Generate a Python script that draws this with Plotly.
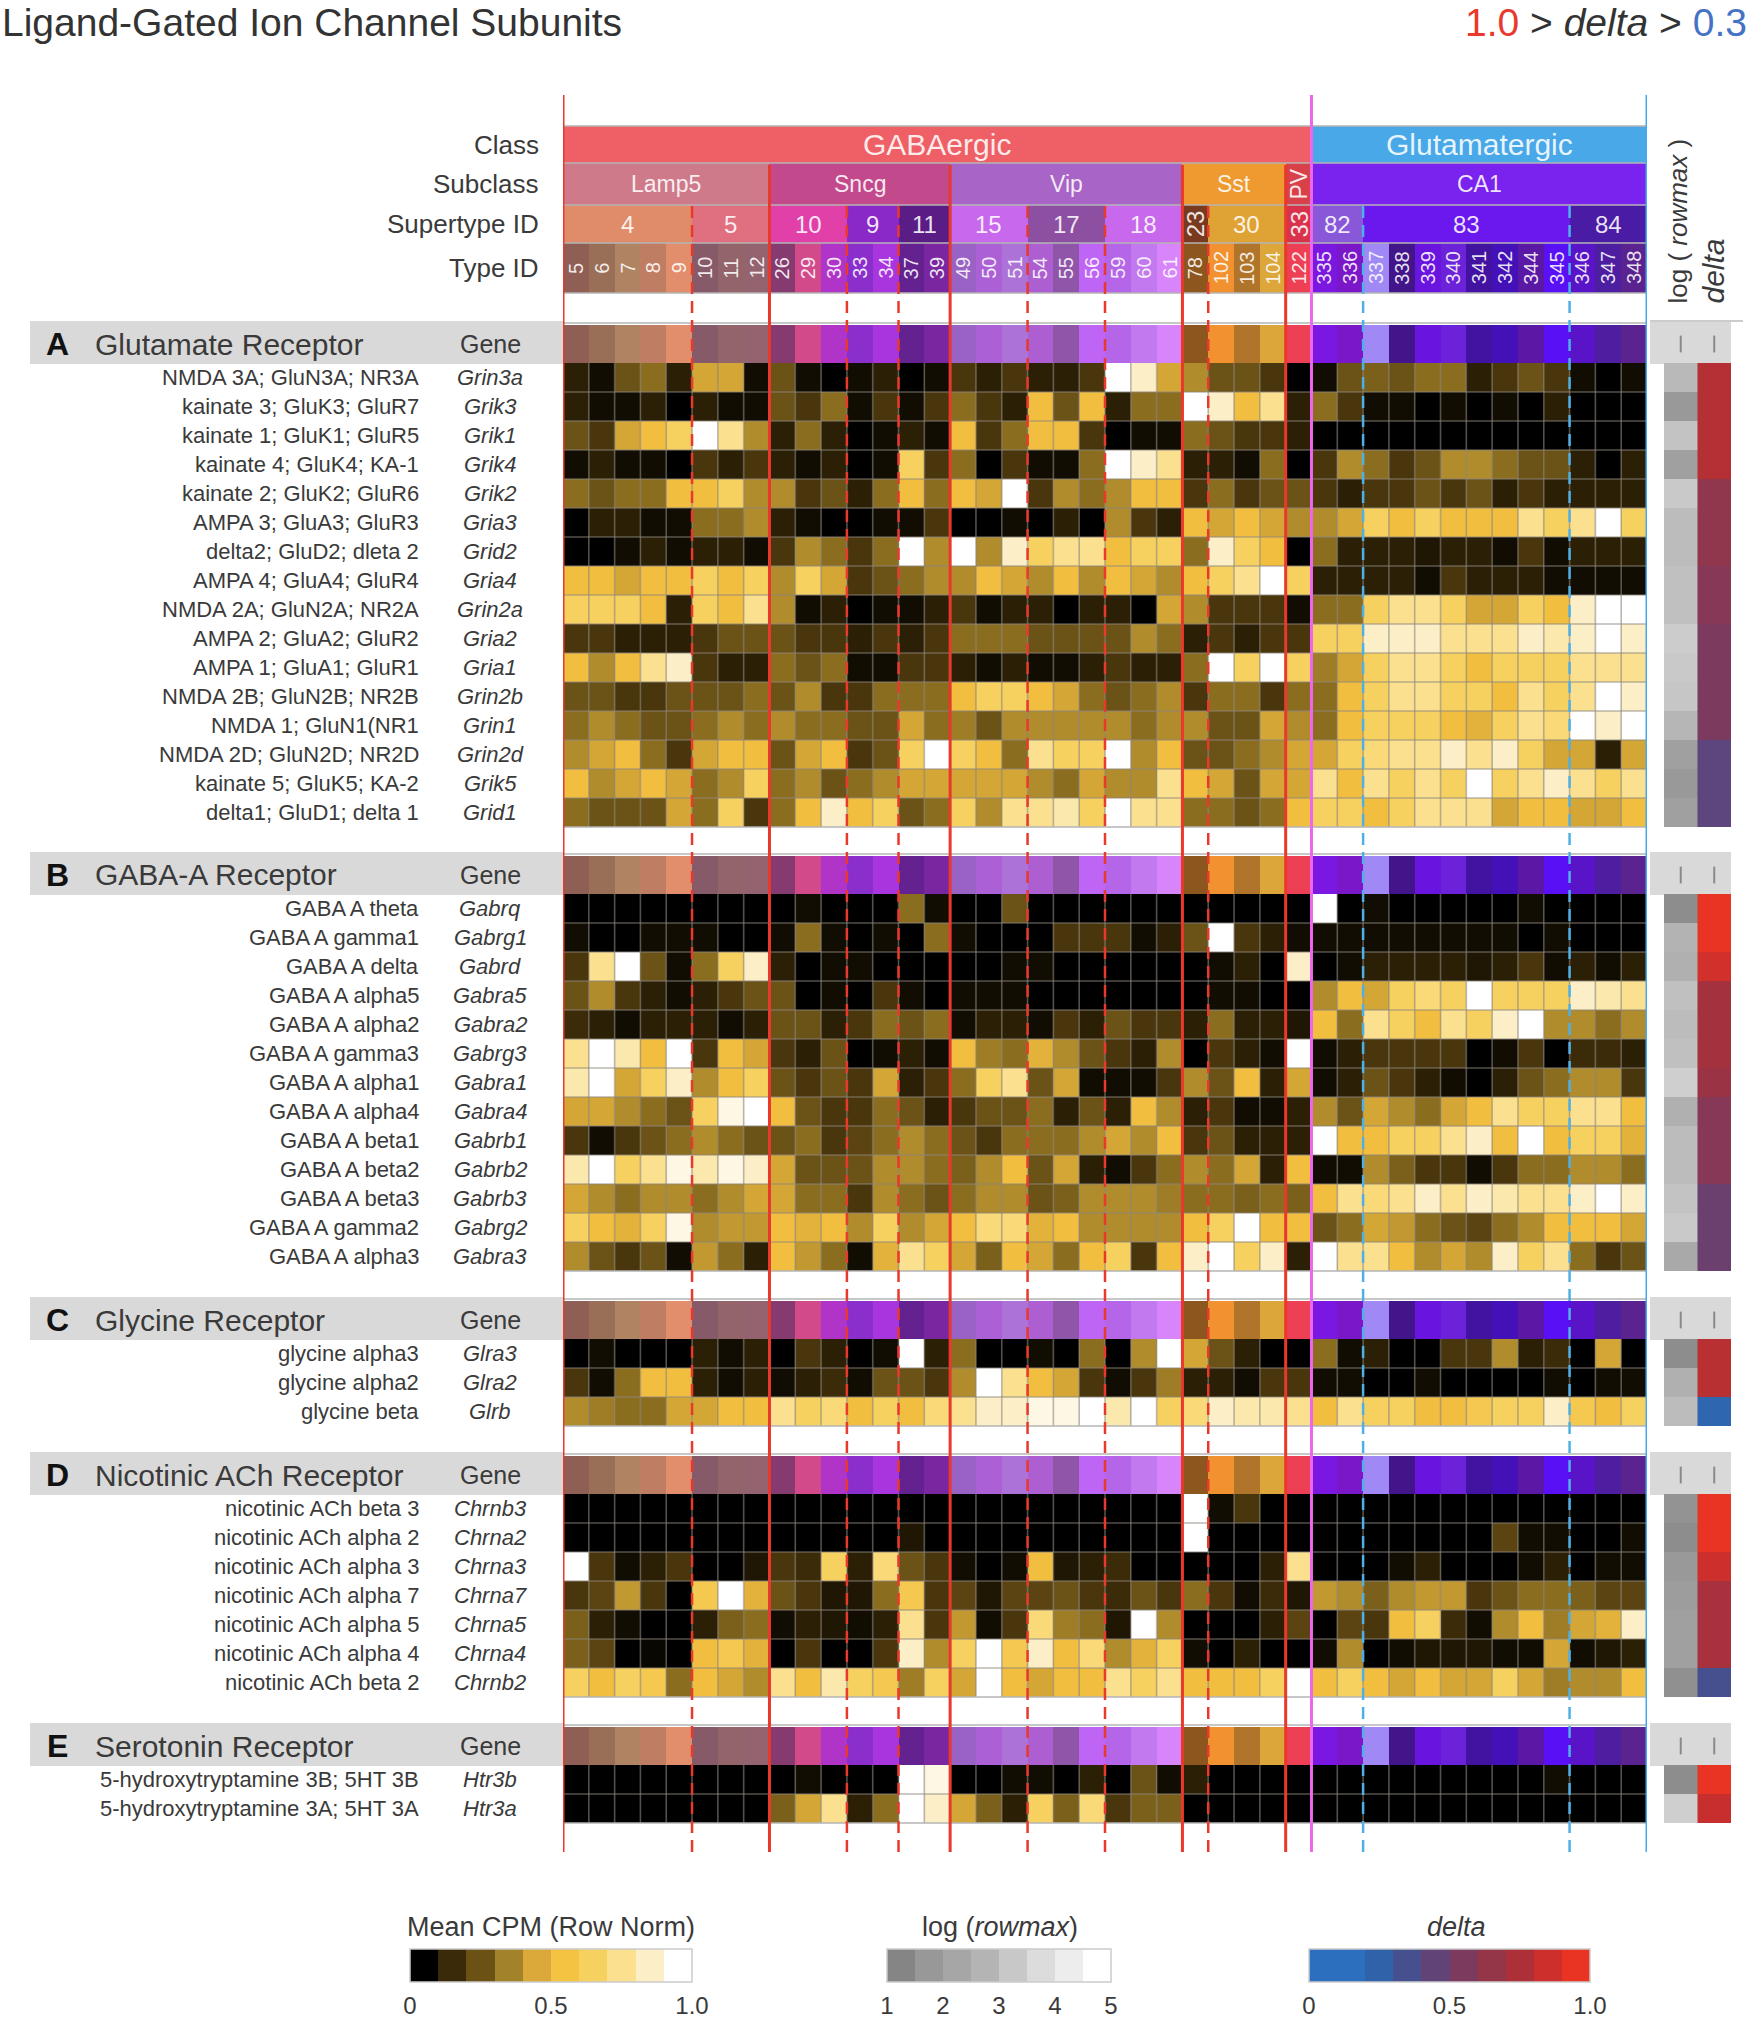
import plotly.graph_objects as go

W = 1750
H = 2020
FONT = "Liberation Sans, Arial, sans-serif"
TEXT = "#3a3a3a"

TYPE_IDS = [5, 6, 7, 8, 9, 10, 11, 12, 26, 29, 30, 33, 34, 37, 39, 49, 50, 51, 54, 55, 56, 59, 60, 61, 78,
            102, 103, 104, 122, 335, 336, 337, 338, 339, 340, 341, 342, 344, 345, 346, 347, 348]
TYPE_COLORS = ["#8f5f55", "#9a6f57", "#b08463", "#bf7d63", "#e28e6c", "#875a6a", "#93646a", "#93636f", "#853a70",
               "#d24a8a", "#b034c8", "#8a2fcc", "#a835de", "#63228f", "#7a26a0", "#9a62c4", "#ab60d5", "#ad72d8",
               "#ad5fd2", "#8f55a8", "#bf65f5", "#b565e8", "#c278ee", "#d884fb", "#8c561e", "#f2912f", "#b0752a",
               "#dca63a", "#ee4055", "#7a17e0", "#7a17c8", "#a088f5", "#42158a", "#6a14e0", "#6c22d8", "#4212a0",
               "#4410b8", "#5a18a5", "#5a10f5", "#5a14c8", "#4d1fa0", "#5a2390"]

SUPERTYPE_NAMES = ["4", "5", "10", "9", "11", "15", "17", "18", "23", "30", "33", "82", "83", "84"]
SUPERTYPE_SPANS = [5, 3, 3, 2, 2, 3, 3, 3, 1, 3, 1, 2, 8, 3]
SUPERTYPE_COLORS = ["#e08c68", "#e0707f", "#e040a8", "#8a28c8", "#5a1c85", "#c868ec", "#8d4fa2", "#c868ec",
                    "#7a3a20", "#dfa335", "#d8334a", "#8858d8", "#6a18ee", "#4a1ca5"]
SUBCLASS_NAMES = ["Lamp5", "Sncg", "Vip", "Sst", "PV", "CA1"]
SUBCLASS_SPANS = [8, 7, 9, 4, 1, 13]
SUBCLASS_COLORS = ["#cf7a8a", "#c24a8c", "#a864c6", "#ee9a30", "#d8404a", "#7a22ee"]
CLASS_NAMES = ["GABAergic", "Glutamatergic"]
CLASS_SPANS = [29, 13]
CLASS_COLORS = ["#ee6065", "#48a8e8"]

SOLID_RED = [8, 15, 24, 28]
DASHED_RED = [5, 11, 13, 18, 21, 25]
DASHED_BLUE = [31, 39]

GLUTAMATE_NAMES = ["NMDA 3A; GluN3A; NR3A", "kainate 3; GluK3; GluR7", "kainate 1; GluK1; GluR5",
                   "kainate 4; GluK4; KA-1", "kainate 2; GluK2; GluR6", "AMPA 3; GluA3; GluR3",
                   "delta2; GluD2; dleta 2", "AMPA 4; GluA4; GluR4", "NMDA 2A; GluN2A; NR2A",
                   "AMPA 2; GluA2; GluR2", "AMPA 1; GluA1; GluR1", "NMDA 2B; GluN2B; NR2B",
                   "NMDA 1; GluN1(NR1", "NMDA 2D; GluN2D; NR2D", "kainate 5; GluK5; KA-2", "delta1; GluD1; delta 1"]
GLUTAMATE_GENES = ["Grin3a", "Grik3", "Grik1", "Grik4", "Grik2", "Gria3", "Grid2", "Gria4", "Grin2a", "Gria2",
                   "Gria1", "Grin2b", "Grin1", "Grin2d", "Grik5", "Grid1"]
GLUTAMATE_VALUES = [
    [2, 1, 4, 5, 2, 7, 7, 1, 4, 1, 0, 1, 2, 0, 1, 3, 2, 3, 2, 2, 3, 12, 11, 7, 6, 4, 4, 3, 0, 1, 4, 4.5, 4, 5, 5, 2, 3, 4, 3, 1, 0, 1],
    [2, 1, 1, 2, 0, 2, 1, 1, 4, 3, 5, 1, 3, 1, 3, 5, 3, 2, 8, 4, 8, 2, 5, 5, 12, 11, 8, 10, 2, 5, 3, 1, 1, 0, 1, 0, 1, 0, 2, 0, 0, 0],
    [4, 3, 7, 8, 9, 12, 10, 6, 2, 5, 2, 0, 1, 2, 1, 8, 3, 5, 8, 8, 3, 0, 1, 1, 5, 4, 3, 3, 2, 0, 0, 0, 0, 0, 0, 0, 0, 0, 0, 0, 0, 0],
    [1, 2, 1, 1, 0, 3, 2, 3, 2, 1, 2, 0, 1, 9, 3, 5, 0, 3, 1, 1, 5, 12, 11, 10, 2, 2, 1, 5, 0, 3, 6, 5, 3, 4, 6, 6, 5, 4, 4, 2, 0, 2],
    [5, 4, 5, 5, 8, 8, 9, 6, 6, 3, 4, 2, 5, 8, 5, 8, 7, 12, 3, 6, 5, 6, 8, 8, 3, 5, 3, 4, 4, 3, 2, 3, 3, 4, 3, 4, 2, 3, 2, 2, 2, 2],
    [0, 2, 2, 1, 1, 5, 5, 6, 2, 1, 0, 0, 1, 1, 3, 0, 0, 1, 0, 2, 0, 6, 3, 2, 8, 7, 8, 7, 6, 6, 7, 9, 8, 9, 8, 8, 8, 10, 9, 10, 12, 9],
    [0, 0, 1, 2, 1, 2, 2, 1, 3, 6, 5, 3, 5, 12, 6, 12, 6, 11, 9, 10, 10, 8, 9, 9, 5, 11, 9, 8, 0, 5, 2, 2, 2, 1.5, 2, 2, 1, 3, 1, 2, 2, 2],
    [8, 8, 7, 8, 8, 9, 8, 9, 6, 9, 7, 3, 4, 5, 6, 6, 8, 7, 6, 8, 6, 8, 7, 6, 8, 9, 10, 12, 9, 2, 2, 2, 2, 1, 3, 2, 2, 2, 1, 1, 1, 1],
    [9, 9, 9, 8, 2, 9, 8, 10, 6, 1, 2, 0, 1, 1, 2, 3, 1, 2, 2, 0, 2, 2, 0, 7, 6, 3, 3, 3, 1, 5, 5, 9, 10, 10, 9, 7, 7, 9, 8, 11, 12, 12],
    [3, 3, 2, 2, 2, 3, 4, 4, 4, 3, 3, 2, 3, 2, 3, 5, 5, 5, 4, 4, 4, 4, 6, 5, 2, 3, 2, 3, 3, 9, 9, 11, 11, 11, 10, 10, 10, 11, 10.5, 11, 12, 11],
    [8, 6, 8, 10, 11, 3, 2, 2, 5, 4, 5, 1, 1, 3, 3, 2, 1, 2, 1, 1, 2, 3, 2, 2, 5, 12, 9, 12, 9, 5.5, 7, 9, 10, 10, 9, 8, 9, 9, 9, 10, 10, 10],
    [4, 4, 3, 3, 4, 4, 4, 5, 4, 6, 3, 3, 5, 5, 5, 8, 9, 9, 8, 7, 5, 4, 5, 6, 3, 5, 5, 3, 5, 5, 8, 9, 10, 10, 9, 9, 8, 10, 9, 10, 12, 11],
    [5, 6, 5, 4, 4, 5, 6, 5, 6, 5, 5, 4, 4, 7, 5, 5.5, 4, 6, 6, 6, 6, 6, 5, 6, 6, 4, 4, 7, 6, 5, 8, 9, 9, 9, 8, 7.5, 9, 10, 9.5, 12, 11, 12],
    [6, 7, 8, 5, 3, 7, 8, 8, 4, 7, 8, 3, 4, 9, 12, 9, 8, 5, 10, 9, 9, 12, 6, 8, 4, 4, 5, 6, 7, 7, 9, 9.5, 10, 10, 11, 10, 11, 9, 7, 7, 2, 7],
    [8, 6, 7, 8, 7, 5, 6, 9, 5, 6, 4, 5, 6, 7, 7, 7, 7, 7, 6, 5, 7, 6, 6, 10, 8, 7, 4, 7, 7, 10, 8, 10, 9, 10, 9, 12, 9, 10, 11, 10, 9, 10],
    [5, 4, 4, 4, 7, 5, 9, 3, 5, 8, 11, 8, 9, 4, 5, 9, 6, 10, 10, 10.5, 9, 12, 10, 10, 5, 5, 4, 5, 8, 9, 9, 8, 9, 10, 10, 10, 7, 8, 8, 7, 7, 8],
]
GLUTAMATE_LOG = [2.8, 1.8, 3.1, 2.0, 3.3, 2.9, 2.9, 3.0, 3.0, 3.4, 3.3, 3.2, 2.7, 2.0, 1.8, 2.0]
GLUTAMATE_DELTA = [.78, .78, .78, .78, .6, .6, .6, .55, .55, .5, .5, .5, .5, .35, .35, .35]

GABA_NAMES = ["GABA A theta", "GABA A gamma1", "GABA A delta", "GABA A alpha5", "GABA A alpha2", "GABA A gamma3",
              "GABA A alpha1", "GABA A alpha4", "GABA A beta1", "GABA A beta2", "GABA A beta3", "GABA A gamma2",
              "GABA A alpha3"]
GABA_GENES = ["Gabrq", "Gabrg1", "Gabrd", "Gabra5", "Gabra2", "Gabrg3", "Gabra1", "Gabra4", "Gabrb1", "Gabrb2",
              "Gabrb3", "Gabrg2", "Gabra3"]
GABA_VALUES = [
    [0, 0, 0, 0, 0, 0, 0, 0, 0, 1, 0, 0, 0, 5, 1, 0, 0, 4, 0, 0, 0, 0, 0, 0, 0, 0, 0, 0, 0, 12, 0, 1, 0, 0, 0, 0, 0, 1, 0, 0, 0, 0],
    [1, 0, 0, 1, 1, 1, 0, 0, 1, 5, 1, 0, 1, 0, 5, 1, 0, 0, 0, 3, 3, 3, 1, 2, 4, 12, 3, 2, 1, 1, 1, 1, 1, 1, 1, 1, 1, 0, 1, 0, 0, 0],
    [3, 10, 12, 4, 1, 5, 9, 11, 2, 0, 1, 1, 0, 0, 0, 0, 0, 1, 1, 0, 0, 0, 0, 0, 0, 1, 2, 0, 11, 0, 1, 2, 2, 2, 2, 1.5, 2, 3, 1, 2, 1, 2],
    [4, 6, 3, 2, 1, 2, 3, 4, 4, 0, 1, 0, 3, 1, 0, 1, 1, 1, 0, 0, 0, 0, 0, 0, 0, 1, 1, 0, 0, 6, 8, 7, 9, 9.5, 9, 12, 9, 9, 9, 11, 10.5, 10],
    [2.5, 2, 1, 2, 2, 2, 1, 2, 4, 4, 2, 3, 5, 4, 5, 1, 2, 2, 1, 3, 2, 4, 3, 3, 2, 5, 2, 2, 1.5, 8, 5, 10, 9, 8, 10, 9, 11, 12, 6, 6, 5, 6],
    [10, 12, 10.5, 8, 12, 3, 8, 7, 3, 2, 4, 0, 1, 2, 1, 8, 5.5, 5, 7.5, 6, 4, 3, 2, 6, 0, 3, 2, 1, 12, 1, 2, 3, 3, 3, 3, 0, 1, 3, 0, 2.5, 2.5, 2],
    [10.5, 12, 7, 9, 11, 6, 8, 9, 4, 3, 4, 3, 7, 2, 3, 5, 9, 10, 4, 7, 1, 1, 1, 3, 6, 4, 8, 2, 7, 1, 2, 4, 3, 2, 1, 0, 2, 4, 5, 6, 6, 3],
    [7, 7, 6, 5, 4, 9, 11.5, 12, 8, 4, 3, 3, 5, 4, 2, 3, 4, 4, 5, 2, 4, 2, 8, 6, 2, 3, 1, 1, 2, 6, 4, 7, 6, 5, 7, 8, 10, 9, 9, 10, 10, 8],
    [3, 1, 3, 4, 5, 6, 5, 4, 4, 5, 3, 3.5, 5, 6, 5, 4, 3, 5, 5, 5, 6, 7, 6, 8, 3, 4, 2, 2, 2, 12, 8, 8, 9, 9, 10, 11, 8, 12, 8, 9, 9, 7.5],
    [10.5, 12, 9, 10, 11.5, 10.5, 11.5, 11, 7, 4, 4, 4, 6, 6, 5, 4.5, 6, 8, 4, 7, 2, 1, 3, 5, 6, 5, 7, 2, 8, 1, 1, 6, 4.5, 3, 3, 1, 3, 5, 5, 6, 6, 5],
    [7, 6, 5, 6, 6, 5, 6, 7, 7, 5, 5, 3, 6, 5, 4, 5, 6, 6, 4, 4.5, 6, 6, 6, 5.5, 5, 5, 4.5, 5, 4.5, 8, 10, 9.5, 10, 11, 10, 11, 10.5, 10, 10, 11, 12, 11],
    [9, 8, 7.5, 9, 11.5, 6, 6.5, 6.5, 8, 7.5, 8, 6, 9, 6, 7, 8, 9.5, 9.5, 7.5, 8, 6, 6, 6, 6, 8, 9, 12, 8, 8, 4, 5, 7, 6.5, 5, 4, 3.5, 5, 6, 8, 8, 8, 7],
    [6, 4, 3, 4, 1, 6.5, 5, 2, 8, 6.5, 5, 1, 7.5, 10, 9, 7, 4.5, 8, 7, 5, 8, 9, 3, 8, 11, 12, 9, 11, 2, 12, 10, 10, 8, 6, 7, 6, 11, 9, 10, 5, 3, 4],
]
GABA_LOG = [1.4, 2.6, 2.5, 3.0, 2.9, 3.0, 3.5, 2.5, 2.9, 2.9, 3.1, 3.3, 2.3]
GABA_DELTA = [1.0, 1.0, .9, .7, .7, .7, .65, .55, .55, .55, .42, .42, .42]

GLYCINE_NAMES = ["glycine alpha3", "glycine alpha2", "glycine beta"]
GLYCINE_GENES = ["Glra3", "Glra2", "Glrb"]
GLYCINE_VALUES = [
    [0, 1, 0, 0, 0, 2, 1, 2, 0, 3, 2, 0, 1, 12, 2, 5, 0, 0, 1, 0, 5, 0, 6, 12, 7, 4, 2, 0, 0, 5, 1, 2, 0, 0, 3, 3, 6, 2, 2.5, 0, 7, 0],
    [3, 1, 5, 8, 8, 2, 1, 2, 1, 2, 2.5, 1, 4, 4, 3, 6, 12, 10, 8, 7, 3, 1, 3, 5.5, 2, 2, 1, 3, 3, 1, 1, 0, 0, 1, 0, 0, 0, 0, 1, 0, 1, 1],
    [6, 5.5, 5, 5, 7, 7, 8, 8, 10, 9, 9.5, 8, 9, 8, 9.5, 10, 11, 11, 11.5, 11.5, 12, 10.5, 12, 9, 9.5, 11, 10.5, 10.5, 10, 8, 10, 9, 9, 8, 8, 8.5, 9, 9, 11, 8.5, 8, 9],
]
GLYCINE_LOG = [1.4, 2.5, 2.9]
GLYCINE_DELTA = [.8, .8, .08]

NICOTINIC_NAMES = ["nicotinic ACh beta 3", "nicotinic ACh alpha 2", "nicotinic ACh alpha 3", "nicotinic ACh alpha 7",
                   "nicotinic ACh alpha 5", "nicotinic ACh alpha 4", "nicotinic ACh beta 2"]
NICOTINIC_GENES = ["Chrnb3", "Chrna2", "Chrna3", "Chrna7", "Chrna5", "Chrna4", "Chrnb2"]
NICOTINIC_VALUES = [
    [0, 0, 0, 0, 0, 0, 0, 0, 0, 0, 0, 0, 0, 0, 0, 0, 0, 0, 0, 0, 0, 0, 0, 0, 12, 1, 3, 0, 0, 0, 0, 0, 0, 0, 0, 0, 0, 0, 0, 0, 0, 0],
    [0, 0, 0, 0, 0, 0, 0, 0, 0, 0, 0, 0, 0, 1.5, 0, 0, 0, 0, 0, 0, 0, 0, 0, 0, 12, 0, 0, 0, 0, 0, 0, 0, 0, 0, 0, 0, 3.5, 1, 1, 0, 0, 1],
    [12, 3, 1, 2, 3, 0, 0, 1.5, 3, 2.5, 9, 2, 9.5, 4, 3, 1, 0, 1, 8, 1.5, 2, 2.5, 0, 0, 0, 0, 0, 2, 10, 0, 0, 0, 1, 2, 0, 0, 0, 1, 2, 0, 1, 1],
    [3, 3.5, 6.5, 3, 0, 8.5, 12, 7.5, 4, 3, 1.5, 1.5, 5, 8.5, 3, 3.5, 1.5, 3.5, 3.5, 4, 3, 2.5, 4, 3, 5, 3, 1, 2.5, 1.5, 6.5, 6, 4.5, 6, 6.5, 6.5, 3, 4, 5, 5, 4.5, 3.5, 3.5],
    [4.5, 2, 1, 0, 0, 2, 4.5, 5, 1, 2, 1.5, 1, 2, 10, 3, 6.5, 1, 3, 9.5, 5.5, 5, 1.5, 12, 6, 0, 0, 0, 2, 3.5, 0, 3.5, 3, 8, 9, 2.5, 1, 6, 8, 5.5, 7, 7.5, 11],
    [4.5, 3.5, 0, 0.5, 0, 8, 8.5, 7.5, 0, 3, 0, 0, 3, 11, 6, 9, 12, 8.5, 11, 8, 9.5, 6, 7.5, 9, 1, 0, 2, 0, 0, 1, 6, 0, 1, 1.5, 1.5, 1.5, 1, 1, 7, 1, 1.5, 2],
    [9, 8, 9, 8.5, 5, 8, 7, 6, 10, 8, 10.5, 9, 8.5, 5.5, 9, 7, 12, 8, 7, 8, 8, 10, 9, 10, 8, 8, 8, 9, 12, 8, 9, 8, 7, 8, 7, 7, 9, 7, 5.5, 6, 6, 8],
]
NICOTINIC_LOG = [1.6, 1.4, 1.8, 1.9, 2.0, 2.0, 1.5]
NICOTINIC_DELTA = [1.0, 1.0, .88, .72, .72, .72, .25]

SEROTONIN_NAMES = ["5-hydroxytryptamine 3B; 5HT 3B", "5-hydroxytryptamine 3A; 5HT 3A"]
SEROTONIN_GENES = ["Htr3b", "Htr3a"]
SEROTONIN_VALUES = [
    [0, 0, 0, 0, 0, 0, 0, 0, 0, 1, 0, 0, 0, 12, 11.5, 0, 0, 1, 1, 0, 2, 0, 4, 1, 2, 0, 0, 0, 0, 0, 0, 0, 0, 0, 0, 0, 0, 0, 1, 0, 0, 0],
    [0, 0, 0, 0, 0, 0, 0, 0, 4.5, 7, 10, 2, 5, 12, 11, 7, 4.5, 2, 9, 4.5, 9.5, 3, 4.5, 4.5, 0, 0, 0, 0, 0, 0, 0, 0, 0, 0, 0, 0, 0, 0, 0, 0, 0, 0],
]
SEROTONIN_LOG = [1.4, 3.5]
SEROTONIN_DELTA = [1.0, .85]

SECTION_LETTERS = ["A", "B", "C", "D", "E"]
SECTION_TITLES = ["Glutamate Receptor", "GABA-A Receptor", "Glycine Receptor", "Nicotinic ACh Receptor",
                  "Serotonin Receptor"]
SECTION_NAMES = [GLUTAMATE_NAMES, GABA_NAMES, GLYCINE_NAMES, NICOTINIC_NAMES, SEROTONIN_NAMES]
SECTION_GENES = [GLUTAMATE_GENES, GABA_GENES, GLYCINE_GENES, NICOTINIC_GENES, SEROTONIN_GENES]
SECTION_VALUES = [GLUTAMATE_VALUES, GABA_VALUES, GLYCINE_VALUES, NICOTINIC_VALUES, SEROTONIN_VALUES]
SECTION_LOG = [GLUTAMATE_LOG, GABA_LOG, GLYCINE_LOG, NICOTINIC_LOG, SEROTONIN_LOG]
SECTION_DELTA = [GLUTAMATE_DELTA, GABA_DELTA, GLYCINE_DELTA, NICOTINIC_DELTA, SEROTONIN_DELTA]

HEAT_LEVELS = ["#000000", "#120d02", "#2b1f06", "#4a360c", "#6b5216", "#8b6d20", "#b08c2c", "#d4a636", "#f2be40",
               "#f7d160", "#fae08f", "#fcefc8", "#ffffff"]
CPM_SWATCHES = ["#000000", "#3a2a0a", "#6b5113", "#a3832a", "#dba93a", "#f5c342", "#f7d160", "#fae08f", "#fcefc8",
                "#ffffff"]
LOG_SWATCHES = ["#858585", "#989898", "#a6a6a6", "#b4b4b4", "#c8c8c8", "#dcdcdc", "#ededed", "#ffffff"]
DELTA_SWATCHES = ["#2d6fbf", "#2d6fbf", "#2f62a8", "#47508f", "#614378", "#7d3a5f", "#953548", "#ad3038", "#cc2f2c",
                  "#e93323"]
DELTA_STOPS = ["#2d6fbf", "#2f62a8", "#47508f", "#614378", "#7d3a5f", "#953548", "#ad3038", "#cc2f2c", "#e93323"]
CPM_TICKS = ["0", "0.5", "1.0"]
LOG_TICKS = ["1", "2", "3", "4", "5"]
DELTA_TICKS = ["0", "0.5", "1.0"]

# page layout in pixels
HEAT_LEFT, HEAT_RIGHT = 563, 1647
SIDE_LEFT, SIDE_RIGHT = 1664, 1731
BAND_TOP = 126
BAND_HEIGHTS = [37, 42, 38, 50]
SECTION_TOPS = [325, 856, 1301, 1456, 1727]
HEADER_H = 38
ROW_H = 29
LINE_TOP = 95
LINE_BOTTOM = 1852
NAME_RIGHT = 421
GENE_CENTER = 490


def xdom(a, b):
    return [a / W, b / W]


def ydom(top, bottom):
    return [1 - bottom / H, 1 - top / H]


def stepscale(colors):
    n = len(colors)
    out = []
    for i, c in enumerate(colors):
        out.append([i / n, c])
        out.append([(i + 1) / n, c])
    return out


def evenscale(colors):
    return [[i / (len(colors) - 1), c] for i, c in enumerate(colors)]


def expand(spans, colors):
    out = []
    for s, c in zip(spans, colors):
        out += [c] * s
    return out


def span_centers(spans):
    out = []
    pos = 0
    for s in spans:
        out.append(pos + (s - 1) / 2)
        pos += s
    return out


def color_strip(fig, colors, y, yaxis):
    fig.add_trace(go.Heatmap(
        z=[list(range(len(colors)))], x=list(range(len(colors))), y=y,
        colorscale=stepscale(colors), zmin=-0.5, zmax=len(colors) - 0.5,
        showscale=False, hoverinfo="skip", xaxis="x", yaxis=yaxis,
    ))


def note(text, x, y, yref, size, color=TEXT, xanchor="center", angle=0, xref="paper"):
    return dict(text=text, x=x, y=y, xref=xref, yref=yref, showarrow=False, xanchor=xanchor, yanchor="middle",
                textangle=angle, font=dict(family=FONT, size=size, color=color))


def hline(ypx, x0, x1, color="#b5b5b5", width=1.5):
    return dict(type="line", xref="paper", yref="paper", x0=x0 / W, x1=x1 / W, y0=1 - ypx / H, y1=1 - ypx / H,
                line=dict(color=color, width=width), layer="above")


def vline(col, top, color, width=3, dash="solid"):
    return dict(type="line", xref="x", yref="paper", x0=col - 0.5, x1=col - 0.5, y0=1 - top / H, y1=1 - LINE_BOTTOM / H,
                line=dict(color=color, width=width, dash=dash), layer="above")


fig = go.Figure()
annotations = []
shapes = []
layout_axes = {}

hidden = dict(visible=False, fixedrange=True)
layout_axes["xaxis"] = dict(hidden, domain=xdom(HEAT_LEFT, HEAT_RIGHT), range=[-0.5, 41.5], anchor="y")
layout_axes["xaxis2"] = dict(hidden, domain=xdom(SIDE_LEFT, SIDE_RIGHT), range=[-0.5, 1.5], anchor="y")

# top bands share one y axis, measured in band heights
edges = [0]
for h in BAND_HEIGHTS:
    edges.append(edges[-1] + h)
layout_axes["yaxis"] = dict(hidden, domain=ydom(BAND_TOP, BAND_TOP + edges[-1]), range=[edges[-1], 0], anchor="x")

color_strip(fig, expand(CLASS_SPANS, CLASS_COLORS), edges[0:2], "y")
color_strip(fig, expand(SUBCLASS_SPANS, SUBCLASS_COLORS), edges[1:3], "y")
color_strip(fig, expand(SUPERTYPE_SPANS, SUPERTYPE_COLORS), edges[2:4], "y")
color_strip(fig, TYPE_COLORS, edges[3:5], "y")

white = "rgba(255,255,255,0.88)"
for name, c in zip(CLASS_NAMES, span_centers(CLASS_SPANS)):
    annotations.append(note(name, c, (edges[0] + edges[1]) / 2, "y", 30, white, xref="x"))
for name, c, s in zip(SUBCLASS_NAMES, span_centers(SUBCLASS_SPANS), SUBCLASS_SPANS):
    annotations.append(note(name, c, (edges[1] + edges[2]) / 2, "y", 23, white, xref="x", angle=-90 if s == 1 else 0))
for name, c, s in zip(SUPERTYPE_NAMES, span_centers(SUPERTYPE_SPANS), SUPERTYPE_SPANS):
    annotations.append(note(name, c, (edges[2] + edges[3]) / 2, "y", 24, white, xref="x", angle=-90 if s == 1 else 0))
for i, t in enumerate(TYPE_IDS):
    annotations.append(note(str(t), i, (edges[3] + edges[4]) / 2, "y", 20, white, xref="x", angle=-90))
for label, k in zip(["Class", "Subclass", "Supertype ID", "Type ID"], range(4)):
    annotations.append(note(label, 541 / W, (edges[k] + edges[k + 1]) / 2, "y", 26, xanchor="right"))

for e in edges:
    shapes.append(hline(BAND_TOP + e, HEAT_LEFT, HEAT_RIGHT))

# receptor sections: a colour strip and a block of rows on their own y axes
axis_no = 2
for s in range(5):
    top = SECTION_TOPS[s]
    values = SECTION_VALUES[s]
    n = len(values)
    body_top = top + HEADER_H
    body_bottom = body_top + n * ROW_H
    head_y = "y" + str(axis_no)
    body_y = "y" + str(axis_no + 1)
    layout_axes["yaxis" + str(axis_no)] = dict(hidden, domain=ydom(top, body_top), range=[0.5, -0.5], anchor="x")
    layout_axes["yaxis" + str(axis_no + 1)] = dict(hidden, domain=ydom(body_top, body_bottom), range=[n - 0.5, -0.5],
                                                   anchor="x")
    axis_no += 2

    shapes.append(dict(type="rect", xref="paper", yref="paper", x0=30 / W, x1=HEAT_LEFT / W,
                       y0=1 - (body_top + 1) / H, y1=1 - (top - 4) / H, fillcolor="#d9d9d9", line_width=0, layer="below"))
    shapes.append(dict(type="rect", xref="paper", yref="paper", x0=1650 / W, x1=SIDE_RIGHT / W,
                       y0=1 - (body_top + 1) / H, y1=1 - (top - 4) / H, fillcolor="#d9d9d9", line_width=0, layer="below"))
    shapes.append(hline(top - 2, HEAT_LEFT, HEAT_RIGHT))
    shapes.append(hline(body_bottom, HEAT_LEFT, HEAT_RIGHT))

    color_strip(fig, TYPE_COLORS, [0], head_y)
    fig.add_trace(go.Heatmap(
        z=values, x=list(range(42)), y=list(range(n)),
        colorscale=evenscale(HEAT_LEVELS), zmin=0, zmax=12, showscale=False, hoverinfo="skip",
        xaxis="x", yaxis=body_y,
    ))

    # semi-transparent cell borders on top of the cells
    gx = []
    gy = []
    for c in range(1, 42):
        gx += [c - 0.5, c - 0.5, None]
        gy += [-0.5, n - 0.5, None]
    for r in range(1, n):
        gx += [-0.5, 41.5, None]
        gy += [r - 0.5, r - 0.5, None]
    fig.add_trace(go.Scatter(x=gx, y=gy, mode="lines", line=dict(color="rgba(140,135,125,0.6)", width=1.6),
                             hoverinfo="skip", showlegend=False, xaxis="x", yaxis=body_y))

    fig.add_trace(go.Heatmap(
        z=[[v] for v in SECTION_LOG[s]], x=[0], y=list(range(n)),
        colorscale=[[0, "#808080"], [1, "#ffffff"]], zmin=1, zmax=5, showscale=False, hoverinfo="skip",
        xaxis="x2", yaxis=body_y,
    ))
    fig.add_trace(go.Heatmap(
        z=[[v] for v in SECTION_DELTA[s]], x=[1], y=list(range(n)),
        colorscale=evenscale(DELTA_STOPS), zmin=0, zmax=1, showscale=False, hoverinfo="skip",
        xaxis="x2", yaxis=body_y,
    ))
    fig.add_trace(go.Scatter(x=[0, 1], y=[0, 0], mode="markers",
                             marker=dict(symbol="line-ns", size=12, line=dict(color="#8a8a8a", width=2)),
                             hoverinfo="skip", showlegend=False, xaxis="x2", yaxis=head_y))

    annotations.append(note("<b>" + SECTION_LETTERS[s] + "</b>", 58 / W, 0, head_y, 32, "#111111"))
    annotations.append(note(SECTION_TITLES[s], 93 / W, 0, head_y, 30, xanchor="left"))
    annotations.append(note("Gene", GENE_CENTER / W, 0, head_y, 25))
    for i in range(n):
        annotations.append(note(SECTION_NAMES[s][i], NAME_RIGHT / W, i, body_y, 22, xanchor="right"))
        annotations.append(note("<i>" + SECTION_GENES[s][i] + "</i>", GENE_CENTER / W, i, body_y, 22))

# legends
legends = [
    (CPM_SWATCHES, 410, 692, [0, 0.5, 1], CPM_TICKS, [0, 1], "Mean CPM (Row Norm)", 551),
    (LOG_SWATCHES, 887, 1111, [1, 2, 3, 4, 5], LOG_TICKS, [1, 5], "log (<i>rowmax</i>)", 1000),
    (DELTA_SWATCHES, 1309, 1590, [0, 0.5, 1], DELTA_TICKS, [0, 1], "<i>delta</i>", 1456),
]
for k, (colors, x0, x1, tickvals, ticktext, lim, title, title_x) in enumerate(legends):
    xname = "x" + str(3 + k)
    yname = "y" + str(axis_no)
    step = (lim[1] - lim[0]) / len(colors)
    layout_axes["xaxis" + str(3 + k)] = dict(
        domain=xdom(x0, x1), range=lim, anchor=yname, fixedrange=True, tickmode="array", tickvals=tickvals,
        ticktext=ticktext, ticks="outside", ticklen=2, tickcolor="rgba(0,0,0,0)", showgrid=False, zeroline=False,
        tickfont=dict(family=FONT, size=24, color=TEXT),
    )
    layout_axes["yaxis" + str(axis_no)] = dict(hidden, domain=ydom(1949, 1982), range=[-0.5, 0.5], anchor=xname)
    fig.add_trace(go.Heatmap(
        z=[list(range(len(colors)))], x=[lim[0] + (i + 0.5) * step for i in range(len(colors))], y=[0],
        colorscale=stepscale(colors), zmin=-0.5, zmax=len(colors) - 0.5, showscale=False, hoverinfo="skip",
        xaxis=xname, yaxis=yname,
    ))
    shapes.append(dict(type="rect", xref="paper", yref="paper", x0=x0 / W, x1=x1 / W, y0=1 - 1982 / H, y1=1 - 1949 / H,
                       line=dict(color="#cccccc", width=1.5), layer="above"))
    annotations.append(dict(text=title, x=title_x / W, y=1 - 1927 / H, xref="paper", yref="paper",
                            showarrow=False, xanchor="center", yanchor="middle",
                            font=dict(family=FONT, size=27, color=TEXT)))
    axis_no += 1

# column dividers
shapes.append(vline(0, LINE_TOP, "#e8392c"))
for c in SOLID_RED:
    shapes.append(vline(c, 165, "#e8392c"))
for c in DASHED_RED:
    shapes.append(vline(c, 206, "#e8392c", 2.5, "12px,7px"))
for c in DASHED_BLUE:
    shapes.append(vline(c, 206, "#4fb0e8", 2.5, "12px,7px"))
shapes.append(vline(29, LINE_TOP, "#ee66ee"))
shapes.append(vline(42, LINE_TOP, "#46a8ee"))
shapes.append(hline(321, 1650, 1743, "#cccccc", 2))

annotations.append(dict(text="Ligand-Gated Ion Channel Subunits", x=0, y=1 - 22 / H, xref="paper", yref="paper",
                        showarrow=False, xanchor="left", yanchor="middle",
                        font=dict(family=FONT, size=39, color="#333333")))
annotations.append(dict(
    text='<span style="color:#e8392c">1.0</span> &gt; <i>delta</i> &gt; <span style="color:#4472c4">0.3</span>',
    x=1749 / W, y=1 - 22 / H, xref="paper", yref="paper", showarrow=False, xanchor="right", yanchor="middle",
    font=dict(family=FONT, size=39, color="#333333")))
annotations.append(dict(text="log ( <i>rowmax</i> )", x=1677 / W, y=1 - 306 / H, xref="paper", yref="paper",
                        showarrow=False, xanchor="center", yanchor="bottom", textangle=-90,
                        font=dict(family=FONT, size=26, color=TEXT)))
annotations.append(dict(text="<i>delta</i>", x=1713 / W, y=1 - 306 / H, xref="paper", yref="paper",
                        showarrow=False, xanchor="center", yanchor="bottom", textangle=-90,
                        font=dict(family=FONT, size=30, color=TEXT)))

fig.update_layout(
    width=W, height=H, margin=dict(l=0, r=0, t=0, b=0, autoexpand=False), paper_bgcolor="white", plot_bgcolor="white",
    showlegend=False, annotations=annotations, shapes=shapes, **layout_axes,
)

fig.write_html("out.html", config={"displayModeBar": False},
               post_script="document.body.style.margin='0';")
